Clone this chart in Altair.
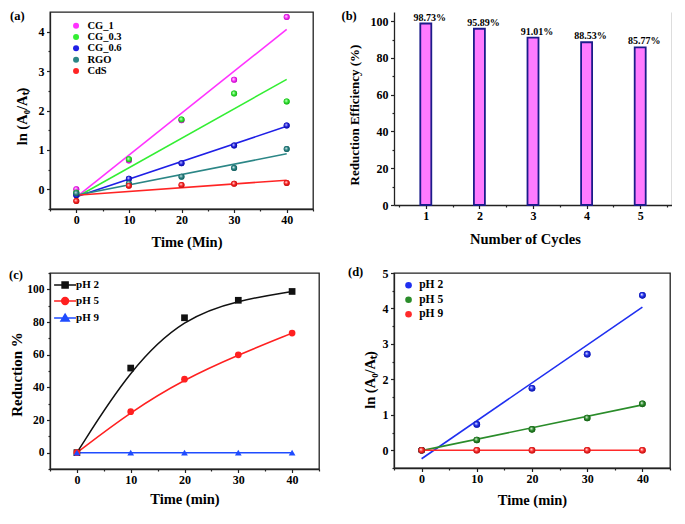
import altair as alt
import pandas as pd

FONT = "Liberation Serif"

# ---------------- data ----------------
time_min = [0, 10, 20, 30, 40]
fit_time = [0, 40]

# panel (a)
a_names = ["CG_1", "CG_0.3", "CG_0.6", "RGO", "CdS"]
a_cg1 = [0.0, 0.73, 1.75, 2.78, 4.37]
a_cg03 = [-0.08, 0.76, 1.77, 2.43, 2.23]
a_cg06 = [-0.15, 0.27, 0.66, 1.11, 1.62]
a_rgo = [-0.10, 0.15, 0.32, 0.54, 1.02]
a_cds = [-0.30, 0.09, 0.11, 0.14, 0.16]
a_fit_cg1 = [-0.20, 4.06]
a_fit_cg03 = [-0.20, 2.79]
a_fit_cg06 = [-0.19, 1.60]
a_fit_rgo = [-0.15, 0.90]
a_fit_cds = [-0.15, 0.23]
a_colors = ["#ff33ff", "#33ee33", "#1f1fe6", "#2b8686", "#ff2424"]
a_dark = ["#a000a0", "#109010", "#0a0a80", "#0d4d4d", "#a00808"]

# panel (b)
b_cycles = [1, 2, 3, 4, 5]
b_eff = [98.73, 95.89, 91.01, 88.53, 85.77]
b_labels = ["98.73%", "95.89%", "91.01%", "88.53%", "85.77%"]

# panel (c)
c_names = ["pH 2", "pH 5", "pH 9"]
c_ph2 = [0.0, 51.8, 82.6, 93.3, 98.7]
c_ph5 = [0.0, 25.1, 45.0, 59.9, 73.2]
c_ph9 = [0.0, 0.0, 0.0, 0.0, 0.0]
c_colors = ["#111111", "#ff2020", "#1f4cff"]
c_shapes = ["square", "circle", "triangle-up"]
c_legend_paths = [
    "M-2,0L2,0M-0.55,-0.55L0.55,-0.55L0.55,0.55L-0.55,0.55Z",
    "M-2,0L2,0M0.62,0A0.62,0.62,0,1,1,-0.62,0A0.62,0.62,0,1,1,0.62,0Z",
    "M-2,0L2,0M0,-0.68L0.75,0.55L-0.75,0.55Z",
]

# panel (d)
d_names = ["pH 2", "pH 5", "pH 9"]
d_ph2 = [0.0, 0.73, 1.75, 2.71, 4.37]
d_ph5 = [0.0, 0.29, 0.59, 0.91, 1.31]
d_ph9 = [0.0, 0.0, 0.0, 0.0, 0.0]
d_fit_ph2 = [-0.24, 4.04]
d_fit_ph5 = [-0.01, 1.28]
d_fit_ph9 = [0.0, 0.0]
d_colors = ["#1f2ff0", "#2a8c2a", "#ff2a2a"]
d_dark = ["#0a0f80", "#0e4a0e", "#a00a0a"]

# ---------------- layout ----------------
A_W, A_H = 263, 197
B_W, B_H = 278, 193
C_W, C_H = 269, 196
D_W, D_H = 276, 195


def long_df(names, series, xs, key):
    rows = []
    for n, vals in zip(names, series):
        for x, v in zip(xs, vals):
            rows.append({key: n, "x": x, "y": v})
    return pd.DataFrame(rows)


def tick_size(major):
    return {"condition": {"test": f"abs(datum.value % {major}) < 1e-6", "value": 3.5}, "value": 2}


def label_expr(major):
    return f"abs(datum.value % {major}) < 1e-6 ? format(datum.value, 'd') : ''"


def x_axis(values, major, title, w, dx, dy, lsize=12, tsize=14.5):
    return alt.Axis(orient="bottom", values=values, title=title,
                    labelExpr=label_expr(major), tickSize=tick_size(major),
                    labelFontSize=lsize, labelPadding=2, labelOverlap=False,
                    titleFontSize=tsize, titleX=w / 2 + dx, titleY=dy,
                    titleBaseline="middle", titleAlign="center", titleAngle=0)


def y_axis(values, major, title, h, dx, dy, lsize=12, tsize=14.5):
    return alt.Axis(orient="left", values=values, title=title,
                    labelExpr=label_expr(major), tickSize=tick_size(major),
                    labelFontSize=lsize, labelPadding=2.5, labelOverlap=False,
                    titleFontSize=tsize, titleX=-dx, titleY=h / 2 + dy,
                    titleBaseline="middle", titleAlign="center", titleAngle=270)


def radial(color, dark):
    return alt.RadialGradient(
        gradient="radial",
        stops=[alt.GradientStop(color="#ffffff", offset=0),
               alt.GradientStop(color=color, offset=0.45),
               alt.GradientStop(color=dark, offset=1)],
        x1=0.38, y1=0.35, r1=0, x2=0.5, y2=0.5, r2=0.6)


def panel_label(text, dx, dy):
    return alt.Chart(pd.DataFrame({"t": [text]})).mark_text(
        align="left", baseline="middle", font=FONT, fontSize=12.5,
        fontWeight="bold", color="black").encode(
        x=alt.value(dx), y=alt.value(dy), text="t:N")


X_TIME = [-5, 0, 5, 10, 15, 20, 25, 30, 35, 40, 45]

# ---------------- panel (a) ----------------
df_a = long_df(a_names, [a_cg1, a_cg03, a_cg06, a_rgo, a_cds], time_min, "sa")
df_a_fit = long_df(a_names, [a_fit_cg1, a_fit_cg03, a_fit_cg06, a_fit_rgo, a_fit_cds], fit_time, "sa")

ax_a = alt.X("x:Q", scale=alt.Scale(domain=[-5, 45], nice=False, zero=False),
             axis=x_axis(X_TIME, 10, "Time (Min)", A_W, 5, 33))
ay_a = alt.Y("y:Q", scale=alt.Scale(domain=[-0.5, 4.5], nice=False, zero=False),
             axis=y_axis([-0.5, 0, 0.5, 1, 1.5, 2, 2.5, 3, 3.5, 4], 1,
                         "ln (A₀/Aₜ)", A_H, 28, 5.5))

a_layers = []
for n, c in zip(a_names, a_colors):
    a_layers.append(alt.Chart(df_a_fit).transform_filter(alt.datum.sa == n).mark_line(
        strokeWidth=1.6, color=c).encode(x=ax_a, y=ay_a))
a_layers.append(alt.Chart(df_a).mark_circle(size=36, opacity=1).encode(
    x=ax_a, y=ay_a,
    fill=alt.Fill("sa:N", scale=alt.Scale(domain=a_names, range=a_colors),
                  legend=alt.Legend(orient="none", legendX=20.8, legendY=8.5, title=None,
                                    labelFontSize=10.5, symbolSize=36, symbolType="circle",
                                    rowPadding=0.3, labelOffset=6.1, symbolStrokeWidth=0))))
for n, c, dk in zip(a_names, a_colors, a_dark):
    a_layers.append(alt.Chart(df_a).transform_filter(alt.datum.sa == n).mark_circle(
        size=36, opacity=1, fill=radial(c, dk)).encode(x=ax_a, y=ay_a))
a_layers.append(panel_label("(a)", -40, 3.5))
pa = alt.layer(*a_layers).properties(width=A_W, height=A_H)

# ---------------- panel (b) ----------------
df_b = pd.DataFrame({"cycle": b_cycles, "eff": b_eff, "label": b_labels})
bx = alt.X("cycle:Q", scale=alt.Scale(domain=[0.5, 5.5], nice=False, zero=False),
           axis=x_axis([0.5, 1, 1.5, 2, 2.5, 3, 3.5, 4, 4.5, 5, 5.5], 1, "Number of Cycles", B_W, -8, 34.5))
b_bars = alt.Chart(df_b).mark_bar(size=11, fill="#ff7bff", stroke="#1c1c8a", strokeWidth=1.8).encode(
    x=bx,
    y=alt.Y("eff:Q", scale=alt.Scale(domain=[0, 105], nice=False),
            axis=y_axis([0, 10, 20, 30, 40, 50, 60, 70, 80, 90, 100], 20,
                        "Reduction Efficiency (%)", B_H, 39.5, 6, tsize=13)))
b_text = alt.Chart(df_b).mark_text(dx=4, dy=-3, baseline="alphabetic", font=FONT, fontSize=10,
                                   fontWeight="bold", color="black").encode(
    x=bx,
    y=alt.Y("eff:Q", scale=alt.Scale(domain=[0, 105], nice=False),
            axis=alt.Axis(orient="right", labels=False, ticks=False, title=None, grid=False)),
    text="label:N")
pb = alt.layer(b_bars, b_text, panel_label("(b)", -52.5, 3.5)).resolve_axis(y="independent").properties(
    width=B_W, height=B_H, view=alt.ViewBackground(stroke=None))

# ---------------- panel (c) ----------------
df_c = long_df(c_names, [c_ph2, c_ph5, c_ph9], time_min, "sc")
cx = alt.X("x:Q", scale=alt.Scale(domain=[-5, 45], nice=False, zero=False),
           axis=x_axis(X_TIME, 10, "Time (min)", C_W, 0, 30))
cy = alt.Y("y:Q", scale=alt.Scale(domain=[-10, 110], nice=False, zero=False),
           axis=y_axis([-10, 0, 10, 20, 30, 40, 50, 60, 70, 80, 90, 100, 110], 20,
                       "Reduction %", C_H, 33.6, 3, lsize=11.5, tsize=15))
c_layers = []
for n, c in zip(c_names, c_colors):
    c_layers.append(alt.Chart(df_c).transform_filter(alt.datum.sc == n).mark_line(
        interpolate="basis", strokeWidth=1.5, color=c).encode(x=cx, y=cy))
for n, c, s in zip(c_names, c_colors, c_shapes):
    c_layers.append(alt.Chart(df_c).transform_filter(alt.datum.sc == n).mark_point(
        filled=True, size=45, opacity=1, shape=s, color=c).encode(x=cx, y=cy))
c_leg_def = dict(orient="none", legendX=8.6, legendY=5.5, title=None, labelFontSize=11,
                 symbolSize=121, rowPadding=3, labelOffset=4.5, symbolStrokeWidth=1.5)
c_layers.append(alt.Chart(df_c).transform_filter("false").mark_point(
    filled=True, size=121, opacity=1, strokeWidth=1.5).encode(
    x=cx, y=cy,
    shape=alt.Shape("sc:N", scale=alt.Scale(domain=c_names, range=c_legend_paths),
                    legend=alt.Legend(**c_leg_def)),
    fill=alt.Fill("sc:N", scale=alt.Scale(domain=c_names, range=c_colors),
                  legend=alt.Legend(**c_leg_def)),
    stroke=alt.Stroke("sc:N", scale=alt.Scale(domain=c_names, range=c_colors),
                      legend=alt.Legend(**c_leg_def))))
c_layers.append(panel_label("(c)", -41, 2))
pc = alt.layer(*c_layers).properties(width=C_W, height=C_H)

# ---------------- panel (d) ----------------
df_d = long_df(d_names, [d_ph2, d_ph5, d_ph9], time_min, "sd")
df_d_fit = long_df(d_names, [d_fit_ph2, d_fit_ph5, d_fit_ph9], fit_time, "sd")
dx_ = alt.X("x:Q", scale=alt.Scale(domain=[-5, 45], nice=False, zero=False),
            axis=x_axis(X_TIME, 10, "Time (min)", D_W, 0, 32))
dy_ = alt.Y("y:Q", scale=alt.Scale(domain=[-0.5, 5], nice=False, zero=False),
            axis=y_axis([-0.5, 0, 0.5, 1, 1.5, 2, 2.5, 3, 3.5, 4, 4.5, 5], 1,
                        "ln (A₀/Aₜ)", D_H, 24, 9))
d_layers = []
for n, c in zip(d_names, d_colors):
    d_layers.append(alt.Chart(df_d_fit).transform_filter(alt.datum.sd == n).mark_line(
        strokeWidth=1.6, color=c).encode(x=dx_, y=dy_))
d_layers.append(alt.Chart(df_d).mark_circle(size=44, opacity=1).encode(
    x=dx_, y=dy_,
    fill=alt.Fill("sd:N", scale=alt.Scale(domain=d_names, range=d_colors),
                  legend=alt.Legend(orient="none", legendX=8.8, legendY=6.5, title=None,
                                    labelFontSize=11.5, symbolSize=44, symbolType="circle",
                                    rowPadding=1.5, labelOffset=4.9, symbolStrokeWidth=0))))
for n, c, dk in zip(d_names, d_colors, d_dark):
    d_layers.append(alt.Chart(df_d).transform_filter(alt.datum.sd == n).mark_circle(
        size=44, opacity=1, fill=radial(c, dk)).encode(x=dx_, y=dy_))
d_layers.append(panel_label("(d)", -46, -1))
pd_ = alt.layer(*d_layers).properties(width=D_W, height=D_H)

chart = alt.concat(pa, pb, pc, pd_, columns=2, spacing={"row": 64, "column": 75},
                   bounds="flush", align="each", padding=0).resolve_scale(
    shape="independent", fill="independent", stroke="independent",
    x="independent", y="independent").resolve_legend(
    shape="independent", fill="independent", stroke="independent"
).configure_view(
    stroke="#222222", strokeWidth=1.3).configure_axis(
    labelFont=FONT, labelFontWeight="bold", labelColor="black",
    titleFont=FONT, titleFontWeight="bold", titleColor="black",
    domainColor="#222222", domainWidth=1.3, tickColor="#222222", tickWidth=1.2,
    grid=False).configure_legend(
    labelFont=FONT, labelFontWeight="bold", labelColor="black", padding=0)

chart.save("out.html", embed_options={"renderer": "svg", "actions": False})
